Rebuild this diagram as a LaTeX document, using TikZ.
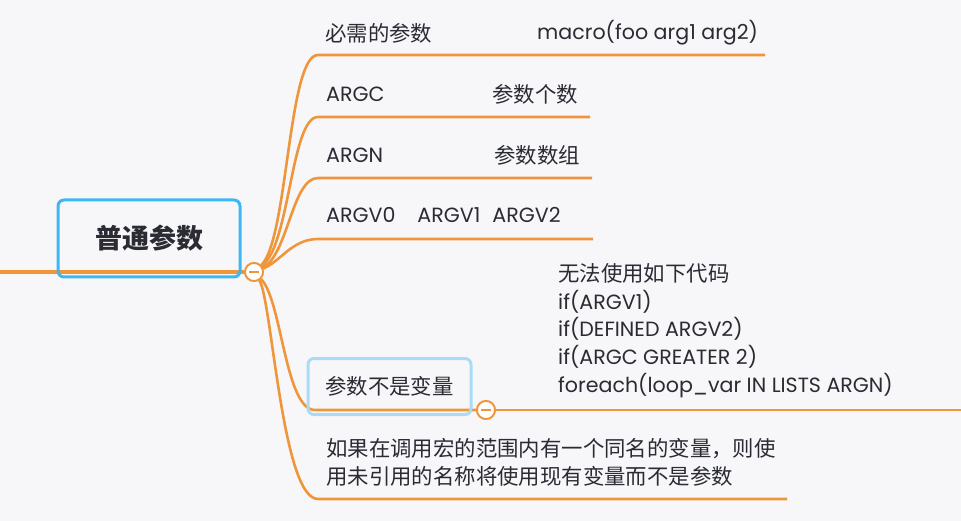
\documentclass[tikz,border=0pt]{standalone}
\usepackage{fontspec}
\setmainfont{Poppins}
\newfontfamily\cjk{Noto Sans CJK SC}
\usepackage{tikz}
\usetikzlibrary{positioning}
\definecolor{mmorange}{HTML}{F0963A}
\definecolor{mmblue}{HTML}{3DB7F2}
\definecolor{mmlight}{HTML}{A8DCF6}
\definecolor{mmtext}{HTML}{2A2B33}
\definecolor{mmbg}{HTML}{F7F7FA}

\begin{document}
\begin{tikzpicture}[x=1pt, y=-1pt,
    branch/.style={draw=mmorange, line width=2.6pt},
    trunk/.style={draw=mmorange, line width=3.4pt},
    lbl/.style={anchor=west, inner sep=0pt, text=mmtext, font=\fontsize{20.6}{27.75}\selectfont, align=left},
    zh/.style={anchor=west, inner sep=0pt, text=mmtext, font=\fontsize{21.4}{28}\selectfont\cjk, align=left},
    fold/.style={circle, draw=mmorange, fill=white, line width=1.8pt, minimum size=18pt, inner sep=0pt,
        path picture={\draw[mmorange, line width=1.5pt] ([xshift=-5pt]path picture bounding box.center) -- ([xshift=5pt]path picture bounding box.center);}}
]
\fill[mmbg] (0,0) rectangle (961,521);
\useasboundingbox (0,0) rectangle (961,521);

\coordinate (edge) at (0,272);
\node[fold] (hub) at (254,272) {};
\node[fold] (hub2) at (486,410) {};
\coordinate (out) at (961,410);

% line starts and ends
\coordinate (req-s) at (318,55);   \coordinate (req-e) at (765,55);
\coordinate (argc-s) at (318,117); \coordinate (argc-e) at (590,117);
\coordinate (argn-s) at (318,178); \coordinate (argn-e) at (592,178);
\coordinate (argv-s) at (318,239); \coordinate (argv-e) at (593,239);
\coordinate (var-s) at (315,410);
\coordinate (scope-s) at (318,499); \coordinate (scope-e) at (787,499);

\draw[trunk] (edge) -- (hub);
\draw[branch] (hub) .. controls (288,240) and (288,55) .. (req-s) -- (req-e);
\draw[branch] (hub) .. controls (290,245) and (291,117) .. (argc-s) -- (argc-e);
\draw[branch] (hub) .. controls (288,255) and (292,178) .. (argn-s) -- (argn-e);
\draw[branch] (hub) .. controls (280,262) and (292,239) .. (argv-s) -- (argv-e);
\draw[branch] (hub) .. controls (282,300) and (285,410) .. (var-s) -- (hub2);
\draw[branch] (hub2) -- (out);
\draw[branch] (hub) .. controls (272,300) and (282,499) .. (scope-s) -- (scope-e);
\node[fold] at (hub) {};
\node[fold] at (hub2) {};

\node[draw=mmblue, line width=3pt, rounded corners=6pt, minimum width=182pt, minimum height=77pt,
    inner sep=0pt, text=mmtext, font=\fontsize{27}{30}\selectfont\cjk\bfseries] (root) at (149,238.5) {普通参数};

\node[zh] (req) at (325,33) {必需的参数};
\node[lbl] (req-ex) at (537,33) {macro(foo arg1 arg2)};
\node[lbl] (argc) at (326,94) {ARGC};
\node[zh] (argc-d) at (492,94) {参数个数};
\node[lbl] (argn) at (326,155) {ARGN};
\node[zh] (argn-d) at (494,155) {参数数组};
\node[lbl] (argv) at (326,215) {ARGV0\hspace{22pt}ARGV1\hspace{12pt}ARGV2};

\node[draw=mmlight, line width=3pt, rounded corners=6pt, minimum width=163pt, minimum height=56pt,
    inner sep=0pt, text=mmtext, font=\fontsize{21.4}{26}\selectfont\cjk] (var) at (389.5,386.5) {参数不是变量};
\node[lbl] (var-ex) at (558,330.5) {{\cjk\fontsize{21.4}{27.75}\selectfont 无法使用如下代码}\\if(ARGV1)\\if(DEFINED ARGV2)\\if(ARGC GREATER 2)\\foreach(loop\_var IN LISTS ARGN)};

\node[zh] (scope) at (326,462) {如果在调用宏的范围内有一个同名的变量，则使\\用未引用的名称将使用现有变量而不是参数};
\end{tikzpicture}
\end{document}
